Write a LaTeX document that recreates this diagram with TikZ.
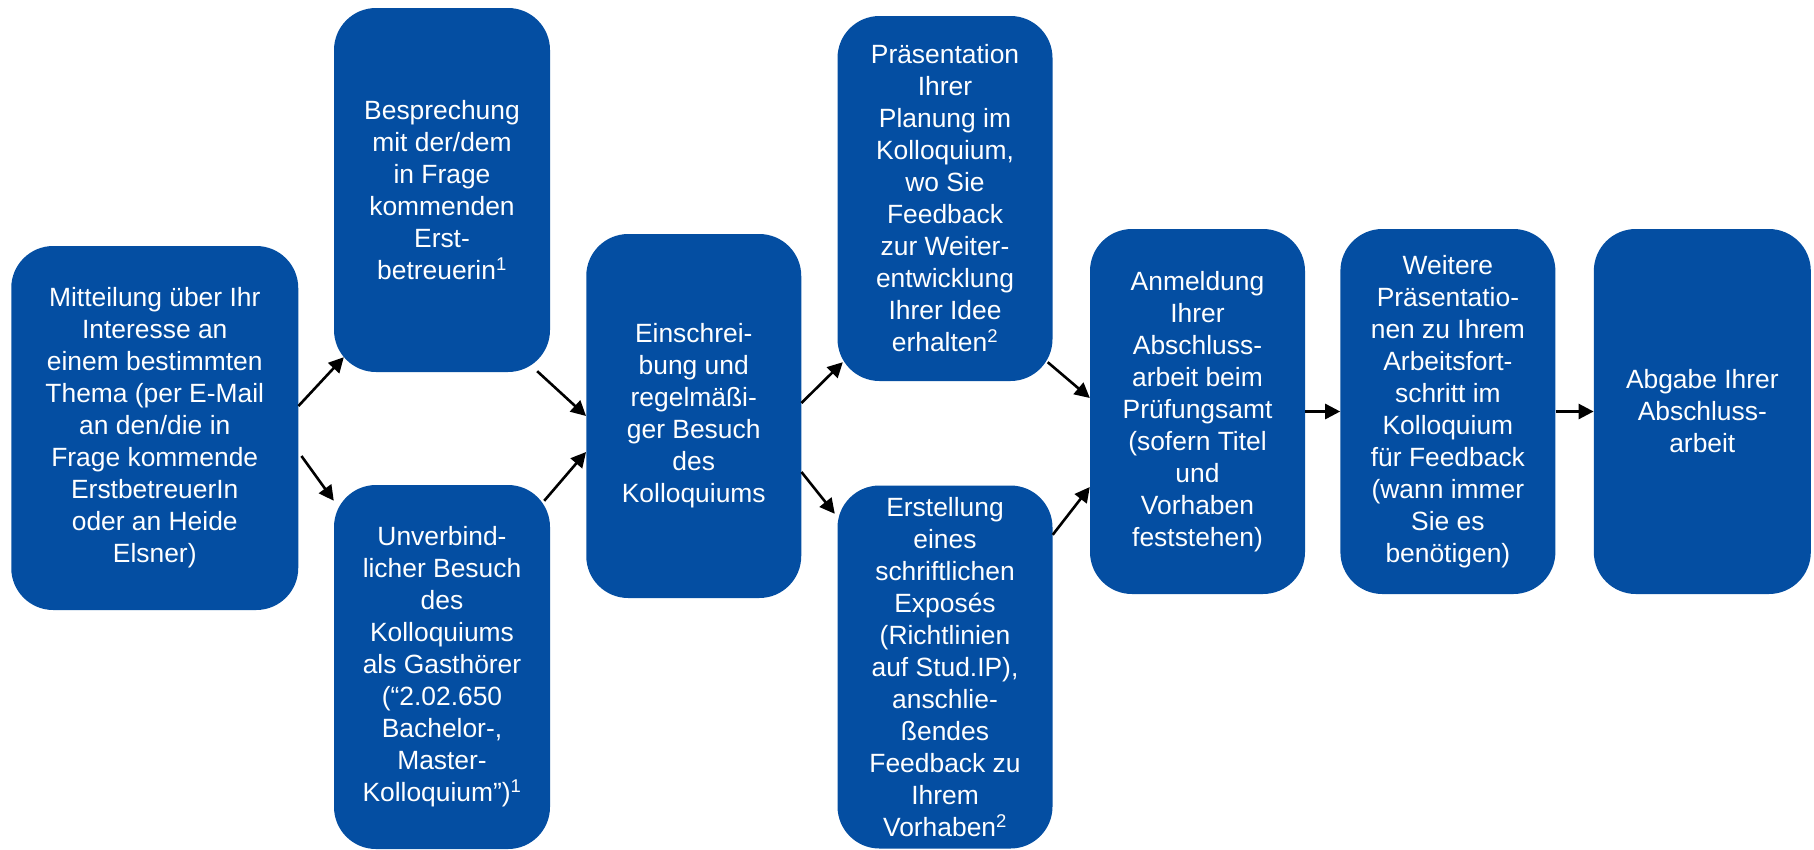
\documentclass[tikz,border=0pt]{standalone}
\usepackage{fontspec}
\setmainfont{Liberation Sans}
\usetikzlibrary{
    positioning,  % Relative positioning
    arrows.meta   % Modern arrow tips
}
\definecolor{uniblue}{RGB}{4,78,162}
\tikzset{
    stepbox/.style={fill=uniblue, text=white, rounded corners=42pt,
        minimum width=215pt, minimum height=364pt, inner sep=0pt,
        align=center, font=\fontsize{26.4}{32}\selectfont},
    flow/.style={-{Triangle[length=15pt,width=15pt]}, line width=2.6pt, black}
}

\begin{document}
\begin{tikzpicture}[x=1pt,y=-1pt]
    \useasboundingbox (0,0) rectangle (1814,849);
    % steps
    \node[stepbox, minimum width=287pt] (interest) at (154.75,428) {Mitteilung über Ihr\\Interesse an\\einem bestimmten\\Thema (per E-Mail\\an den/die in\\Frage kommende\\ErstbetreuerIn\\oder an Heide\\Elsner)};
    \node[stepbox, minimum width=216pt] (meeting) at (442,190) {Besprechung\\mit der/dem\\in Frage\\kommenden\\Erst-\\betreuerin\textsuperscript{1}};
    \node[stepbox, minimum width=216pt] (guest) at (442,667) {Unverbind-\\licher Besuch\\des\\Kolloquiums\\als Gasthörer\\(“2.02.650\\Bachelor-,\\Master-\\Kolloquium”)\textsuperscript{1}};
    \node[stepbox] (enrol) at (693.75,416) {Einschrei-\\bung und\\regelmäßi-\\ger Besuch\\des\\Kolloquiums};
    \node[stepbox, minimum height=365pt] (plan) at (945,198.5) {Präsentation\\Ihrer\\Planung im\\Kolloquium,\\wo Sie\\Feedback\\zur Weiter-\\entwicklung\\Ihrer Idee\\erhalten\textsuperscript{2}};
    \node[stepbox, minimum height=363pt] (expose) at (945,667) {Erstellung\\eines\\schriftlichen\\Exposés\\(Richtlinien\\auf Stud.IP),\\anschlie-\\ßendes\\Feedback zu\\Ihrem\\Vorhaben\textsuperscript{2}};
    \node[stepbox, minimum height=365pt] (register) at (1197.5,411.5) {Anmeldung\\Ihrer\\Abschluss-\\arbeit beim\\Prüfungsamt\\(sofern Titel\\und\\Vorhaben\\feststehen)};
    \node[stepbox, minimum height=365pt, right=35pt of register] (progress) {Weitere\\Präsentatio-\\nen zu Ihrem\\Arbeitsfort-\\schritt im\\Kolloquium\\für Feedback\\(wann immer\\Sie es\\benötigen)};
    \node[stepbox, minimum height=365pt, minimum width=217pt, right=38pt of progress] (submit) {Abgabe Ihrer\\Abschluss-\\arbeit};
    % arrows
    \draw[flow] ([yshift=22pt]interest.east) -- ([shift={(10pt,15pt)}]meeting.south west);
    \draw[flow] ([shift={(3pt,-28pt)}]interest.east) -- ([yshift=-16pt]guest.north west);
    \draw[flow] ([shift={(-13pt,1pt)}]meeting.south east) -- (enrol.west);
    \draw[flow] ([shift={(-6pt,-16pt)}]guest.north east) -- ([yshift=-36pt]enrol.west);
    \draw[flow] ([yshift=13pt]enrol.east) -- ([shift={(5.5pt,19pt)}]plan.south west);
    \draw[flow] ([yshift=-56pt]enrol.east) -- ([shift={(-2.5pt,-28.5pt)}]expose.north west);
    \draw[flow] ([shift={(-5pt,19pt)}]plan.south east) -- ([yshift=13.5pt]register.west);
    \draw[flow] ([yshift=-49.5pt]expose.north east) -- ([yshift=-75.5pt]register.west);
    \draw[flow] (register.east) -- (progress.west);
    \draw[flow] (progress.east) -- (submit.west);
\end{tikzpicture}
\end{document}
